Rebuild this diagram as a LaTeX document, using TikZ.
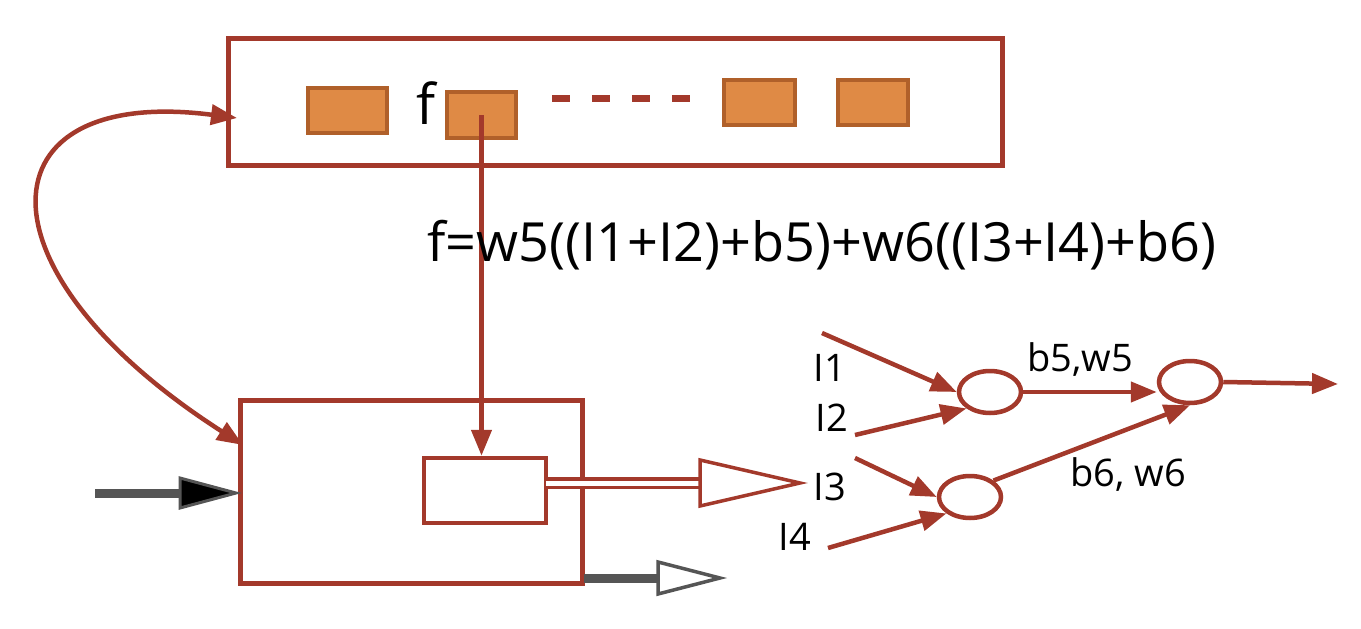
\documentclass[tikz,border=0pt]{standalone}
\usepackage{fontspec}
\setmainfont{Open Sans}
\usetikzlibrary{arrows.meta,shapes.geometric}
\begin{document}
\begin{tikzpicture}[x=1pt,y=-1pt,
  red/.style={draw=rd,line width=5pt},
  sq/.style={draw=sqd,fill=sqf,line width=4pt},
  ar/.style={draw=rd,line width=4.5pt,-{Triangle[length=26pt,width=20pt]}},
  lab/.style={font=\fontsize{38}{38}\selectfont,inner sep=0pt},
  circ/.style={draw=rd,line width=4.5pt,ellipse,minimum width=62pt,minimum height=42pt,inner sep=0pt,fill=white}]
\definecolor{rd}{HTML}{A3392B}
\definecolor{sqf}{HTML}{DF8A45}
\definecolor{sqd}{HTML}{B0602A}
\definecolor{gr}{HTML}{555555}
\useasboundingbox (0,0) rectangle (1361,629);
\node[red,minimum width=774pt,minimum height=127pt,inner sep=0pt] (top) at (615,101.5) {};
\node[sq,minimum width=79pt,minimum height=45pt,inner sep=0pt] (s1) at (347.5,110.5) {};
\node[sq,minimum width=69pt,minimum height=46pt,inner sep=0pt] (s2) at (481.5,115) {};
\node[sq,minimum width=71pt,minimum height=45pt,inner sep=0pt] (s3) at (759.5,102.5) {};
\node[sq,minimum width=70pt,minimum height=45pt,inner sep=0pt] (s4) at (873,102.5) {};
\node[font=\fontsize{56}{56}\selectfont,inner sep=0pt] (f) at (426,103) {f};
\coordinate (d1) at (552,98); \coordinate (d2) at (692,98);
\draw[rd,line width=7pt,dash pattern=on 18pt off 22pt] (d1) -- (d2);
\node[red,minimum width=342pt,minimum height=183pt,inner sep=0pt] (low) at (411,491.5) {};
\node[red,line width=4.5pt,minimum width=122pt,minimum height=65pt,inner sep=0pt] (in) at (485,490.5) {};
\draw[ar] (s2.center) -- (s2.center |- in.north);
\node[font=\fontsize{54}{54}\selectfont,inner sep=0pt] (eq) at (822,245) {f=w5((I1+I2)+b5)+w6((I3+I4)+b6)};
\coordinate (ta) at (237,118); \coordinate (la) at (243,445);
\draw[ar,{Triangle[length=26pt,width=20pt]}-{Triangle[length=26pt,width=20pt]}] (ta) .. controls (-20,85) and (-30,270) .. (la);
% double arrow
\coordinate (da) at (546,483); \coordinate (db) at (800,483);
\draw[rd,line width=12pt] (da) -- (705,483);
\draw[white,line width=5pt] (da) -- (707,483);
\draw[rd,line width=3.5pt,fill=white] (700,460) -- (db) -- (700,506) -- cycle;
% gray arrows
\coordinate (ga) at (95,493);
\draw[gr,line width=9pt] (ga) -- (185,493);
\draw[gr,line width=3pt,fill=black] (180,478) -- (236,493) -- (180,508) -- cycle;
\coordinate (gb) at (584,578);
\draw[gr,line width=9pt] (gb) -- (660,578);
\draw[gr,line width=3.5pt,fill=white] (658,562) -- (720,578) -- (658,594) -- cycle;
% network
\node[circ] (c1) at (990,392) {};
\node[circ] (c2) at (1190,382) {};
\node[circ] (c3) at (970,497) {};
\node[lab] (i1) at (830,368) {I1};
\node[lab] (i2) at (832,418) {I2};
\node[lab] (i3) at (830,487) {I3};
\node[lab] (i4) at (795,537) {I4};
\node[lab] (bw5) at (1080,360) {b5,w5};
\node[lab] (bw6) at (1128,475) {b6, w6};
\coordinate (p1) at (822,333); \coordinate (p2) at (855,435);
\coordinate (p3) at (855,458); \coordinate (p4) at (828,548);
\coordinate (out) at (1338,384);
\draw[ar] (p1) -- (c1.west);
\draw[ar] (p2) -- (c1.south west);
\draw[ar] (p3) -- (c3.west);
\draw[ar] (p4) -- (c3.south west);
\draw[ar] (c1.east) -- (c2.west |- c1.east);
\draw[ar] (c3.north east) -- (c2.south);
\draw[ar] (c2.east) -- (out);
\end{tikzpicture}
\end{document}
